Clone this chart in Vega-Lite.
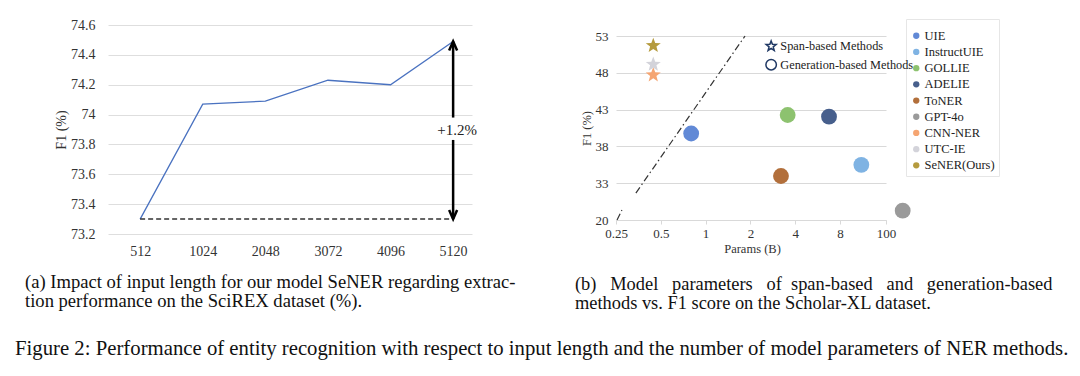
{
  "$schema": "https://vega.github.io/schema/vega-lite/v6.json",
  "background": "white",
  "padding": {"left": 15, "top": 18, "right": 5, "bottom": 5},
  "config": {
    "font": "Liberation Serif",
    "view": {"stroke": null},
    "axis": {"labelFont": "Liberation Serif", "titleFont": "Liberation Serif", "labelColor": "#333", "titleColor": "#333", "titleFontWeight": "normal", "labelOverlap": false},
    "legend": {"labelFont": "Liberation Serif", "labelColor": "#222"},
    "title": {"font": "Liberation Serif", "fontWeight": "normal", "color": "#111"}
  },
  "title": {
    "text": "Figure 2: Performance of entity recognition with respect to input length and the number of model parameters of NER methods.",
    "orient": "bottom", "anchor": "start", "fontSize": 20.75, "offset": 27, "dx": -10
  },
  "spacing": 59,
  "resolve": {"scale": {"shape": "independent", "color": "independent"}, "legend": {"shape": "independent", "color": "independent"}},
  "hconcat": [
    {
      "width": 364,
      "height": 209,
      "title": {
        "text": ["(a) Impact of input length for our model SeNER regarding extrac-", "tion performance on the SciREX dataset (%)."],
        "orient": "bottom", "anchor": "start", "frame": "group", "dx": -83, "offset": 15, "fontSize": 18.6, "lineHeight": 19
      },
      "layer": [
        {
          "data": {"values": [
            {"length": "512", "f1": 73.3},
            {"length": "1024", "f1": 74.07},
            {"length": "2048", "f1": 74.09},
            {"length": "3072", "f1": 74.23},
            {"length": "4096", "f1": 74.2},
            {"length": "5120", "f1": 74.49}
          ]},
          "mark": {"type": "line", "color": "#4a72c0", "strokeWidth": 1.3},
          "encoding": {
            "x": {"field": "length", "type": "ordinal",
              "scale": {"type": "point", "domain": ["512", "1024", "2048", "3072", "4096", "5120"], "padding": 0.4075, "align": 0.63},
              "axis": {"title": null, "labelAngle": 0, "ticks": false, "domain": false, "labelFontSize": 14, "labelPadding": 10}},
            "y": {"field": "f1", "type": "quantitative",
              "scale": {"domain": [73.2, 74.6], "zero": false, "nice": false},
              "axis": {"title": "F1 (%)", "values": [73.2, 73.4, 73.6, 73.8, 74, 74.2, 74.4, 74.6], "tickCount": 20, "labelOverlap": false, "format": "~g", "grid": true, "gridColor": "#dedede", "domain": false, "ticks": false, "labelFontSize": 14, "labelPadding": 13, "titleFontSize": 14, "titlePadding": 2}}
          }
        },
        {
          "data": {"values": [{"from": "512", "to": "5120", "base": 73.3}]},
          "mark": {"type": "rule", "color": "#333", "strokeWidth": 1.5, "strokeDash": [5, 3]},
          "encoding": {
            "x": {"field": "from", "type": "ordinal"},
            "x2": {"field": "to"},
            "y": {"field": "base", "type": "quantitative"}
          }
        },
        {
          "data": {"values": [
            {"pos": "5120", "lo": 73.3, "hi": 73.83},
            {"pos": "5120", "lo": 73.98, "hi": 74.49}
          ]},
          "mark": {"type": "rule", "color": "#000", "strokeWidth": 2.5},
          "encoding": {
            "x": {"field": "pos", "type": "ordinal"},
            "y": {"field": "lo", "type": "quantitative"},
            "y2": {"field": "hi"}
          }
        },
        {
          "data": {"values": [
            {"pos": "5120", "v": 74.49, "dir": "up"},
            {"pos": "5120", "v": 73.3, "dir": "down"}
          ]},
          "mark": {"type": "point", "filled": false, "stroke": "#000", "strokeWidth": 2.5, "size": 100, "opacity": 1},
          "encoding": {
            "x": {"field": "pos", "type": "ordinal"},
            "y": {"field": "v", "type": "quantitative"},
            "shape": {"field": "dir", "type": "nominal", "legend": null,
              "scale": {"domain": ["up", "down"], "range": ["M -0.8 1.8 L 0 0 L 0.8 1.8", "M -0.8 -1.8 L 0 0 L 0.8 -1.8"]}}
          }
        },
        {
          "data": {"values": [{"pos": "5120", "v": 73.9, "label": "+1.2%"}]},
          "mark": {"type": "text", "fontSize": 15, "color": "#222", "dx": 4, "font": "Liberation Serif"},
          "encoding": {
            "x": {"field": "pos", "type": "ordinal"},
            "y": {"field": "v", "type": "quantitative"},
            "text": {"field": "label"}
          }
        }
      ]
    },
    {
      "width": 284,
      "height": 195,
      "title": {
        "text": ["(b)\u00a0\u00a0 Model\u00a0\u00a0 parameters\u00a0\u00a0 of\u00a0 span-based\u00a0\u00a0 and\u00a0\u00a0 generation-based", "methods vs. F1 score on the Scholar-XL dataset."],
        "orient": "bottom", "anchor": "start", "frame": "group", "dx": -41, "offset": 20, "fontSize": 18.4, "lineHeight": 19
      },
      "layer": [
        {
          "data": {"values": [
            {"seg": 1, "p": 0.254, "f1": 20},
            {"seg": 1, "p": 0.274, "f1": 23.5},
            {"seg": 2, "p": 0.34, "f1": 29.5},
            {"seg": 2, "p": 1.84, "f1": 53}
          ]},
          "mark": {"type": "line", "color": "#333", "strokeWidth": 1.2, "strokeDash": [7, 3, 1.5, 3]},
          "encoding": {
            "x": {"field": "p", "type": "quantitative",
              "scale": {"type": "log", "domain": [0.25, 8, 100], "range": [0, 224, 270], "nice": false, "zero": false},
              "axis": {"title": "Params (B)", "titleX": 136, "values": [0.25, 0.5, 1, 2, 4, 8, 100], "tickCount": 20, "labelOverlap": false, "labelFlush": false, "format": "~g", "grid": false, "domain": true, "domainColor": "#d9d9d9", "ticks": true, "tickColor": "#d9d9d9", "tickSize": 4, "labelFontSize": 13, "labelPadding": 3, "titleFontSize": 12.5, "titlePadding": 2}},
            "y": {"field": "f1", "type": "quantitative",
              "scale": {"domain": [20, 33, 53], "range": [195, 158.2, 11], "nice": false, "zero": false},
              "axis": {"title": "F1 (%)", "values": [20, 33, 38, 43, 48, 53], "tickCount": 20, "labelOverlap": false, "labelFlush": false, "grid": true, "gridColor": "#d9d9d9", "domain": false, "ticks": false, "labelFontSize": 13, "labelPadding": 8, "titleFontSize": 12.5, "titlePadding": 2}},
            "detail": {"field": "seg", "type": "nominal"}
          }
        },
        {
          "data": {"values": [
            {"model": "UIE", "type": "Generation-based Methods", "p": 0.8, "f1": 39.75},
            {"model": "InstructUIE", "type": "Generation-based Methods", "p": 25.8, "f1": 35.5},
            {"model": "GOLLIE", "type": "Generation-based Methods", "p": 3.56, "f1": 42.27},
            {"model": "ADELIE", "type": "Generation-based Methods", "p": 6.75, "f1": 42.04},
            {"model": "ToNER", "type": "Generation-based Methods", "p": 3.21, "f1": 33.98},
            {"model": "GPT-4o", "type": "Generation-based Methods", "p": 250, "f1": 23.3},
            {"model": "CNN-NER", "type": "Span-based Methods", "p": 0.445, "f1": 47.7},
            {"model": "UTC-IE", "type": "Span-based Methods", "p": 0.445, "f1": 49.15},
            {"model": "SeNER(Ours)", "type": "Span-based Methods", "p": 0.445, "f1": 51.7}
          ]},
          "mark": {"type": "point", "filled": true, "opacity": 1, "size": 250},
          "encoding": {
            "x": {"field": "p", "type": "quantitative"},
            "y": {"field": "f1", "type": "quantitative"},
            "color": {"field": "model", "type": "nominal",
              "scale": {"domain": ["UIE", "InstructUIE", "GOLLIE", "ADELIE", "ToNER", "GPT-4o", "CNN-NER", "UTC-IE", "SeNER(Ours)"],
                "range": ["#6189d6", "#7fb3e3", "#8dc26f", "#475f8c", "#b26f3b", "#9a9a9a", "#f5a572", "#d3d3da", "#b59b3e"]},
              "legend": {"orient": "none", "legendX": 290, "legendY": -6, "title": " ", "titleFontSize": 5, "titlePadding": 1.5, "padding": 4, "strokeColor": "#e6e6e6", "labelFontSize": 12.5, "symbolSize": 40, "rowPadding": 3.2, "labelOffset": 2,
                "encode": {"symbols": {"update": {"shape": {"signal": "indexof(['CNN-NER','UTC-IE','SeNER(Ours)'], datum.value) >= 0 ? 'M0,-1L0.247,-0.34L0.951,-0.309L0.399,0.13L0.588,0.809L0,0.42L-0.588,0.809L-0.399,0.13L-0.951,-0.309L-0.247,-0.34Z' : 'circle'"}}}}}},
            "shape": {"field": "type", "type": "nominal",
              "scale": {"domain": ["Span-based Methods", "Generation-based Methods"],
                "range": ["M0,-1L0.247,-0.34L0.951,-0.309L0.399,0.13L0.588,0.809L0,0.42L-0.588,0.809L-0.399,0.13L-0.951,-0.309L-0.247,-0.34Z", "circle"]},
              "legend": {"orient": "none", "legendX": 149, "legendY": 15, "title": null, "labelFontSize": 12.3, "symbolSize": 110, "rowPadding": 1.5, "labelLimit": 0, "labelOffset": 3,
                "symbolFillColor": "transparent", "symbolStrokeColor": "#1f3864", "symbolStrokeWidth": 1.5, "symbolOpacity": 1}}
          }
        }
      ]
    }
  ]
}
